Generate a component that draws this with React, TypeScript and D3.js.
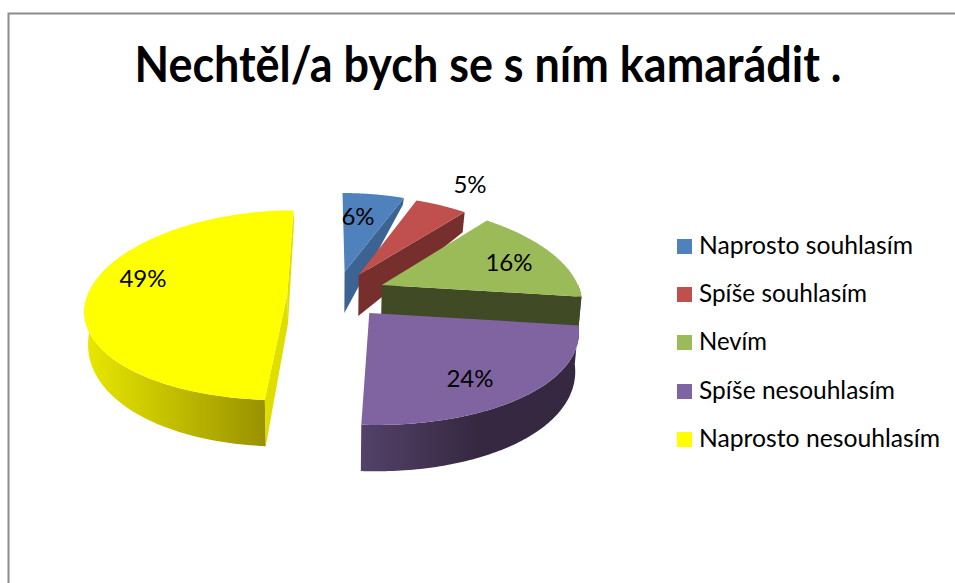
import React from "react";
import * as d3 from "d3";

const title = "Nechtěl/a bych se s ním kamarádit .";
const categories = ["Naprosto souhlasím", "Spíše souhlasím", "Nevím", "Spíše nesouhlasím", "Naprosto nesouhlasím"];
const values = [6, 5, 16, 24, 49];
const labels = ["6%", "5%", "16%", "24%", "49%"];
const colors = ["#4f81bd", "#c0504d", "#9bbb59", "#8064a2", "#ffff00"];
const faceColors = ["#3c6391", "#772f2e", "#404a25", "#4c3a5e", "#dede00"];
const wallStops: string[][] = [
  ["#3c6391", "#3c6391"], ["#772f2e", "#772f2e"], ["#404a25", "#404a25"],
  ["#54426a", "#352840"], ["#e8e800", "#989000"],
];
const wallRange: [number, number][] = [[0, 0], [0, 0], [340, 585], [358, 480], [85, 268]];
// world-space explosion of each slice (unit radius)
const explodeX = [0.076, 0.149, 0.264, 0.191, -0.214];
const explodeY = [0.22, 0.186, 0.075, -0.22, -0.02];
// extrusion height = a + b * Y
const heightA = [49, 46, 40, 36, 29];
const heightB = [-36.6, -27, 0, -8.5, -17];
// which flat cut faces are visible: start, end
const showStart = [false, false, false, false, true];
const showEnd = [true, true, true, false, true];
const labelX = [358, 470, 509, 470, 143];
const labelY = [225, 193, 271, 387, 287];
const legendY = [239, 287, 335, 384, 432];
const legendTextWidth = [214, 168, 68, 196, 241];

const W = 955, H = 583;
const cx = 330, vy = -480, C = 6407, K = 1648, f = 8.3, bottomShrink = 0.985, xTaper = 0.04;

type P = [number, number];
const proj = (X: number, Y: number): P => {
  const s = 1 / (f + Y);
  return [cx + K * X * s * (1 - xTaper * Y), vy + C * s];
};
const line = d3.line<P>();

const pie = d3.pie<number>().sort(null).value((d) => d);
const arcs = pie(values);

function sliceGeom(i: number) {
  const ex = explodeX[i], ey = explodeY[i];
  const h = (Y: number) => heightA[i] + heightB[i] * Y;
  const top = (a: number, r = 1): P => proj(ex + r * Math.sin(a), ey + r * Math.cos(a));
  const bot = (a: number, r = 1): P => {
    const Y = ey + r * Math.cos(a);
    const p = top(a, r);
    return [cx + (p[0] - cx) * bottomShrink, p[1] + h(Y)];
  };
  const { startAngle: a0, endAngle: a1 } = arcs[i];
  const n = 90;
  const as = d3.range(n + 1).map((k) => a0 + ((a1 - a0) * k) / n);
  const topPath = line([top(0, 0), ...as.map((a) => top(a))]) + "Z";
  const wa0 = Math.max(a0, Math.PI / 2);
  const wa1 = Math.min(a1, (Math.PI * 300) / 180);
  let wall = "";
  if (wa1 > wa0) {
    const was = d3.range(n + 1).map((k) => wa0 + ((wa1 - wa0) * k) / n);
    wall = line([...was.map((a) => top(a)), ...was.slice().reverse().map((a) => bot(a))]) + "Z";
  }
  const face = (a: number) => line([top(0, 0), top(a), bot(a), bot(0, 0)]) + "Z";
  return { topPath, wall, startFace: face(a0), endFace: face(a1) };
}

const order = [4, 0, 1, 2, 3];

export default function App() {
  const font = "Lato, Carlito, sans-serif";
  return (
    <svg width={W} height={H} viewBox={`0 0 ${W} ${H}`}
      style={{ position: "fixed", left: 0, top: 0, background: "#fff" }}>
      <defs>
        {values.map((_, i) => (
          <linearGradient key={i} id={`wall${i}`} gradientUnits="userSpaceOnUse"
            x1={wallRange[i][0]} x2={wallRange[i][1]} y1={0} y2={0}>
            <stop offset="0" stopColor={wallStops[i][0]} />
            <stop offset="1" stopColor={wallStops[i][1]} />
          </linearGradient>
        ))}
      </defs>
      <path d={`M${W},13.5H8.5V${H}`} fill="none" stroke="#8c8c8c" strokeWidth={2} />
      <text x={488} y={82} textAnchor="middle" fontFamily={font} fontWeight={700} fontSize={50}
        textLength={707} lengthAdjust="spacingAndGlyphs" fill="#000">{title}</text>
      {order.map((i) => {
        const g = sliceGeom(i);
        return (
          <g key={i}>
            {g.wall && <path d={g.wall} fill={`url(#wall${i})`} />}
            {showEnd[i] && <path d={g.endFace} fill={faceColors[i]} />}
            {showStart[i] && <path d={g.startFace} fill={faceColors[i]} />}
            <path d={g.topPath} fill={colors[i]} />
          </g>
        );
      })}
      {labels.map((t, i) => (
        <text key={t} x={labelX[i]} y={labelY[i]} textAnchor="middle" fontFamily={font} fontSize={24} fill="#000">{t}</text>
      ))}
      {categories.map((c, i) => (
        <g key={c}>
          <rect x={677} y={legendY[i]} width={15} height={15} fill={colors[i]} />
          <text x={699} y={legendY[i] + 15} fontFamily={font} fontSize={24.5} fill="#000"
            textLength={legendTextWidth[i]} lengthAdjust="spacingAndGlyphs">{c}</text>
        </g>
      ))}
    </svg>
  );
}
